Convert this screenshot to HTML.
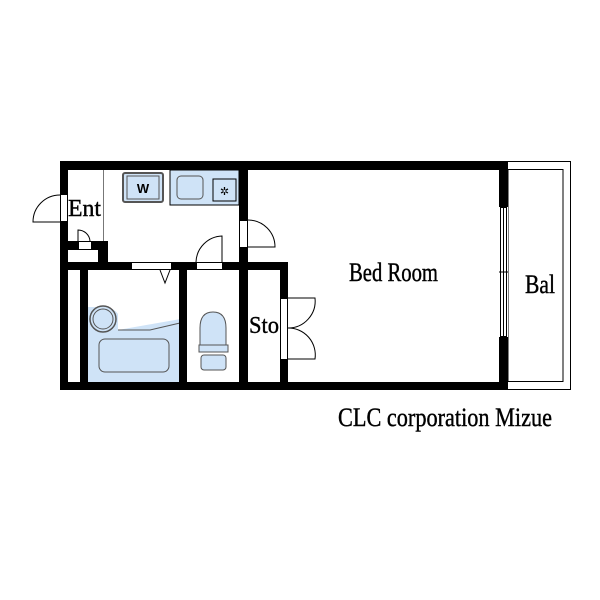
<!DOCTYPE html>
<html><head><meta charset="utf-8"><style>html,body{margin:0;padding:0;background:#fff}svg{display:block}</style></head><body>
<svg width="600" height="600" viewBox="0 0 600 600" xmlns="http://www.w3.org/2000/svg">
<rect width="600" height="600" fill="#fff"/>
<rect x="507.5" y="161.5" width="63" height="228" fill="#fff" stroke="#000" stroke-width="1"/>
<rect x="508" y="169.5" width="55" height="212" fill="none" stroke="#000" stroke-width="1"/>
<rect x="170" y="170" width="69" height="35" fill="#cfe3f7" stroke="#000" stroke-width="1"/>
<rect x="177" y="176" width="26" height="23" rx="4" fill="#cfe3f7" stroke="#555" stroke-width="1"/>
<rect x="213" y="179" width="23" height="22" fill="#cfe3f7" stroke="#000" stroke-width="1"/>
<text x="224.5" y="195" font-size="11" text-anchor="middle" font-family="DejaVu Sans, sans-serif">✲</text>
<rect x="123" y="173" width="40" height="29" rx="2" fill="#cfe3f7" stroke="#555" stroke-width="2"/>
<rect x="127" y="176" width="32" height="23" fill="#cfe3f7" stroke="#555" stroke-width="1"/>
<text x="143" y="193" font-size="13" font-weight="bold" text-anchor="middle" font-family="Liberation Sans, sans-serif">W</text>
<path d="M88 307 L103 307 Q113 307 118 314 L118 330 L175 320 L180 319 L180 382 L88 382 Z" fill="#cfe3f7"/>
<path d="M118 330 L150 330 L180 323" fill="none" stroke="#555" stroke-width="1"/>
<circle cx="103" cy="319" r="13" fill="#cfe3f7" stroke="#555" stroke-width="1.5"/>
<circle cx="103" cy="319" r="10" fill="none" stroke="#555" stroke-width="1"/>
<rect x="99" y="339" width="70" height="33" rx="6" fill="#cfe3f7" stroke="#555" stroke-width="1"/>
<path d="M200 345 L200 328 Q200 312 213 312 Q226 312 226 328 L226 345 Z" fill="#cfe3f7" stroke="#555" stroke-width="1"/>
<rect x="199" y="345" width="29" height="7" fill="#cfe3f7" stroke="#555" stroke-width="1"/>
<rect x="201" y="355" width="25" height="15" rx="3" fill="#cfe3f7" stroke="#555" stroke-width="1"/>
<line x1="103.5" y1="170" x2="103.5" y2="241" stroke="#777" stroke-width="1"/>
<g fill="#000">
<rect x="60" y="161" width="448" height="9"/>
<rect x="60" y="382" width="448" height="8"/>
<rect x="60" y="161" width="8" height="229"/>
<rect x="499" y="161" width="9" height="229"/>
<rect x="239" y="161" width="9" height="229"/>
<rect x="60" y="262" width="228" height="8"/>
<rect x="280" y="262" width="8" height="128"/>
<rect x="80" y="262" width="8" height="128"/>
<rect x="179" y="262" width="8" height="128"/>
<rect x="60" y="241" width="48" height="9"/>
<rect x="98" y="241" width="10" height="21"/>
</g>
<rect x="68" y="250" width="30" height="12" fill="#fff"/>
<rect x="60.5" y="194.5" width="7" height="27" fill="#fff" stroke="#000" stroke-width="1"/>
<path d="M60 222 L33 222 A27 27 0 0 1 60 195" fill="none" stroke="#000" stroke-width="1"/>
<rect x="78.5" y="241.5" width="13" height="8" fill="#fff" stroke="#000" stroke-width="1"/>
<path d="M78 241 L78 230 A12 12 0 0 1 90 241" fill="none" stroke="#000" stroke-width="1"/>
<rect x="131.5" y="262.5" width="40" height="7" fill="#fff" stroke="#000" stroke-width="1"/>
<path d="M160 270 L165 283 L170 270" fill="none" stroke="#000" stroke-width="1"/>
<rect x="196.5" y="262.5" width="26" height="7" fill="#fff" stroke="#000" stroke-width="1"/>
<path d="M196 262 A27 27 0 0 1 222 236 L222 262" fill="none" stroke="#000" stroke-width="1"/>
<rect x="239.5" y="220.5" width="8" height="27" fill="#fff" stroke="#000" stroke-width="1"/>
<path d="M248 220 A27 27 0 0 1 275 247 L248 247" fill="none" stroke="#000" stroke-width="1"/>
<rect x="280.5" y="298.5" width="7" height="61" fill="#fff" stroke="#000" stroke-width="1"/>
<path d="M288 298 L315 298 A27 27 0 0 1 288 328 A27 27 0 0 1 315 359 L288 359" fill="none" stroke="#000" stroke-width="1"/>
<rect x="499" y="207" width="9" height="130" fill="#fff"/>
<rect x="500.5" y="207.5" width="3" height="129" fill="none" stroke="#000" stroke-width="1"/>
<rect x="503.5" y="207.5" width="3" height="129" fill="none" stroke="#000" stroke-width="1"/>
<line x1="499" y1="272" x2="508" y2="272" stroke="#000" stroke-width="1"/>
<g font-family="Liberation Serif, serif" fill="#000" stroke="#000" stroke-width="0.4">
<text x="68" y="216" font-size="24" textLength="33" lengthAdjust="spacingAndGlyphs">Ent</text>
<text x="349" y="281" font-size="26" textLength="89" lengthAdjust="spacingAndGlyphs">Bed Room</text>
<text x="525" y="293" font-size="26" textLength="30" lengthAdjust="spacingAndGlyphs">Bal</text>
<text x="249" y="333" font-size="24" textLength="30" lengthAdjust="spacingAndGlyphs">Sto</text>
<text x="338" y="426" font-size="26" textLength="214" lengthAdjust="spacingAndGlyphs">CLC corporation Mizue</text>
</g>
</svg>
</body></html>
